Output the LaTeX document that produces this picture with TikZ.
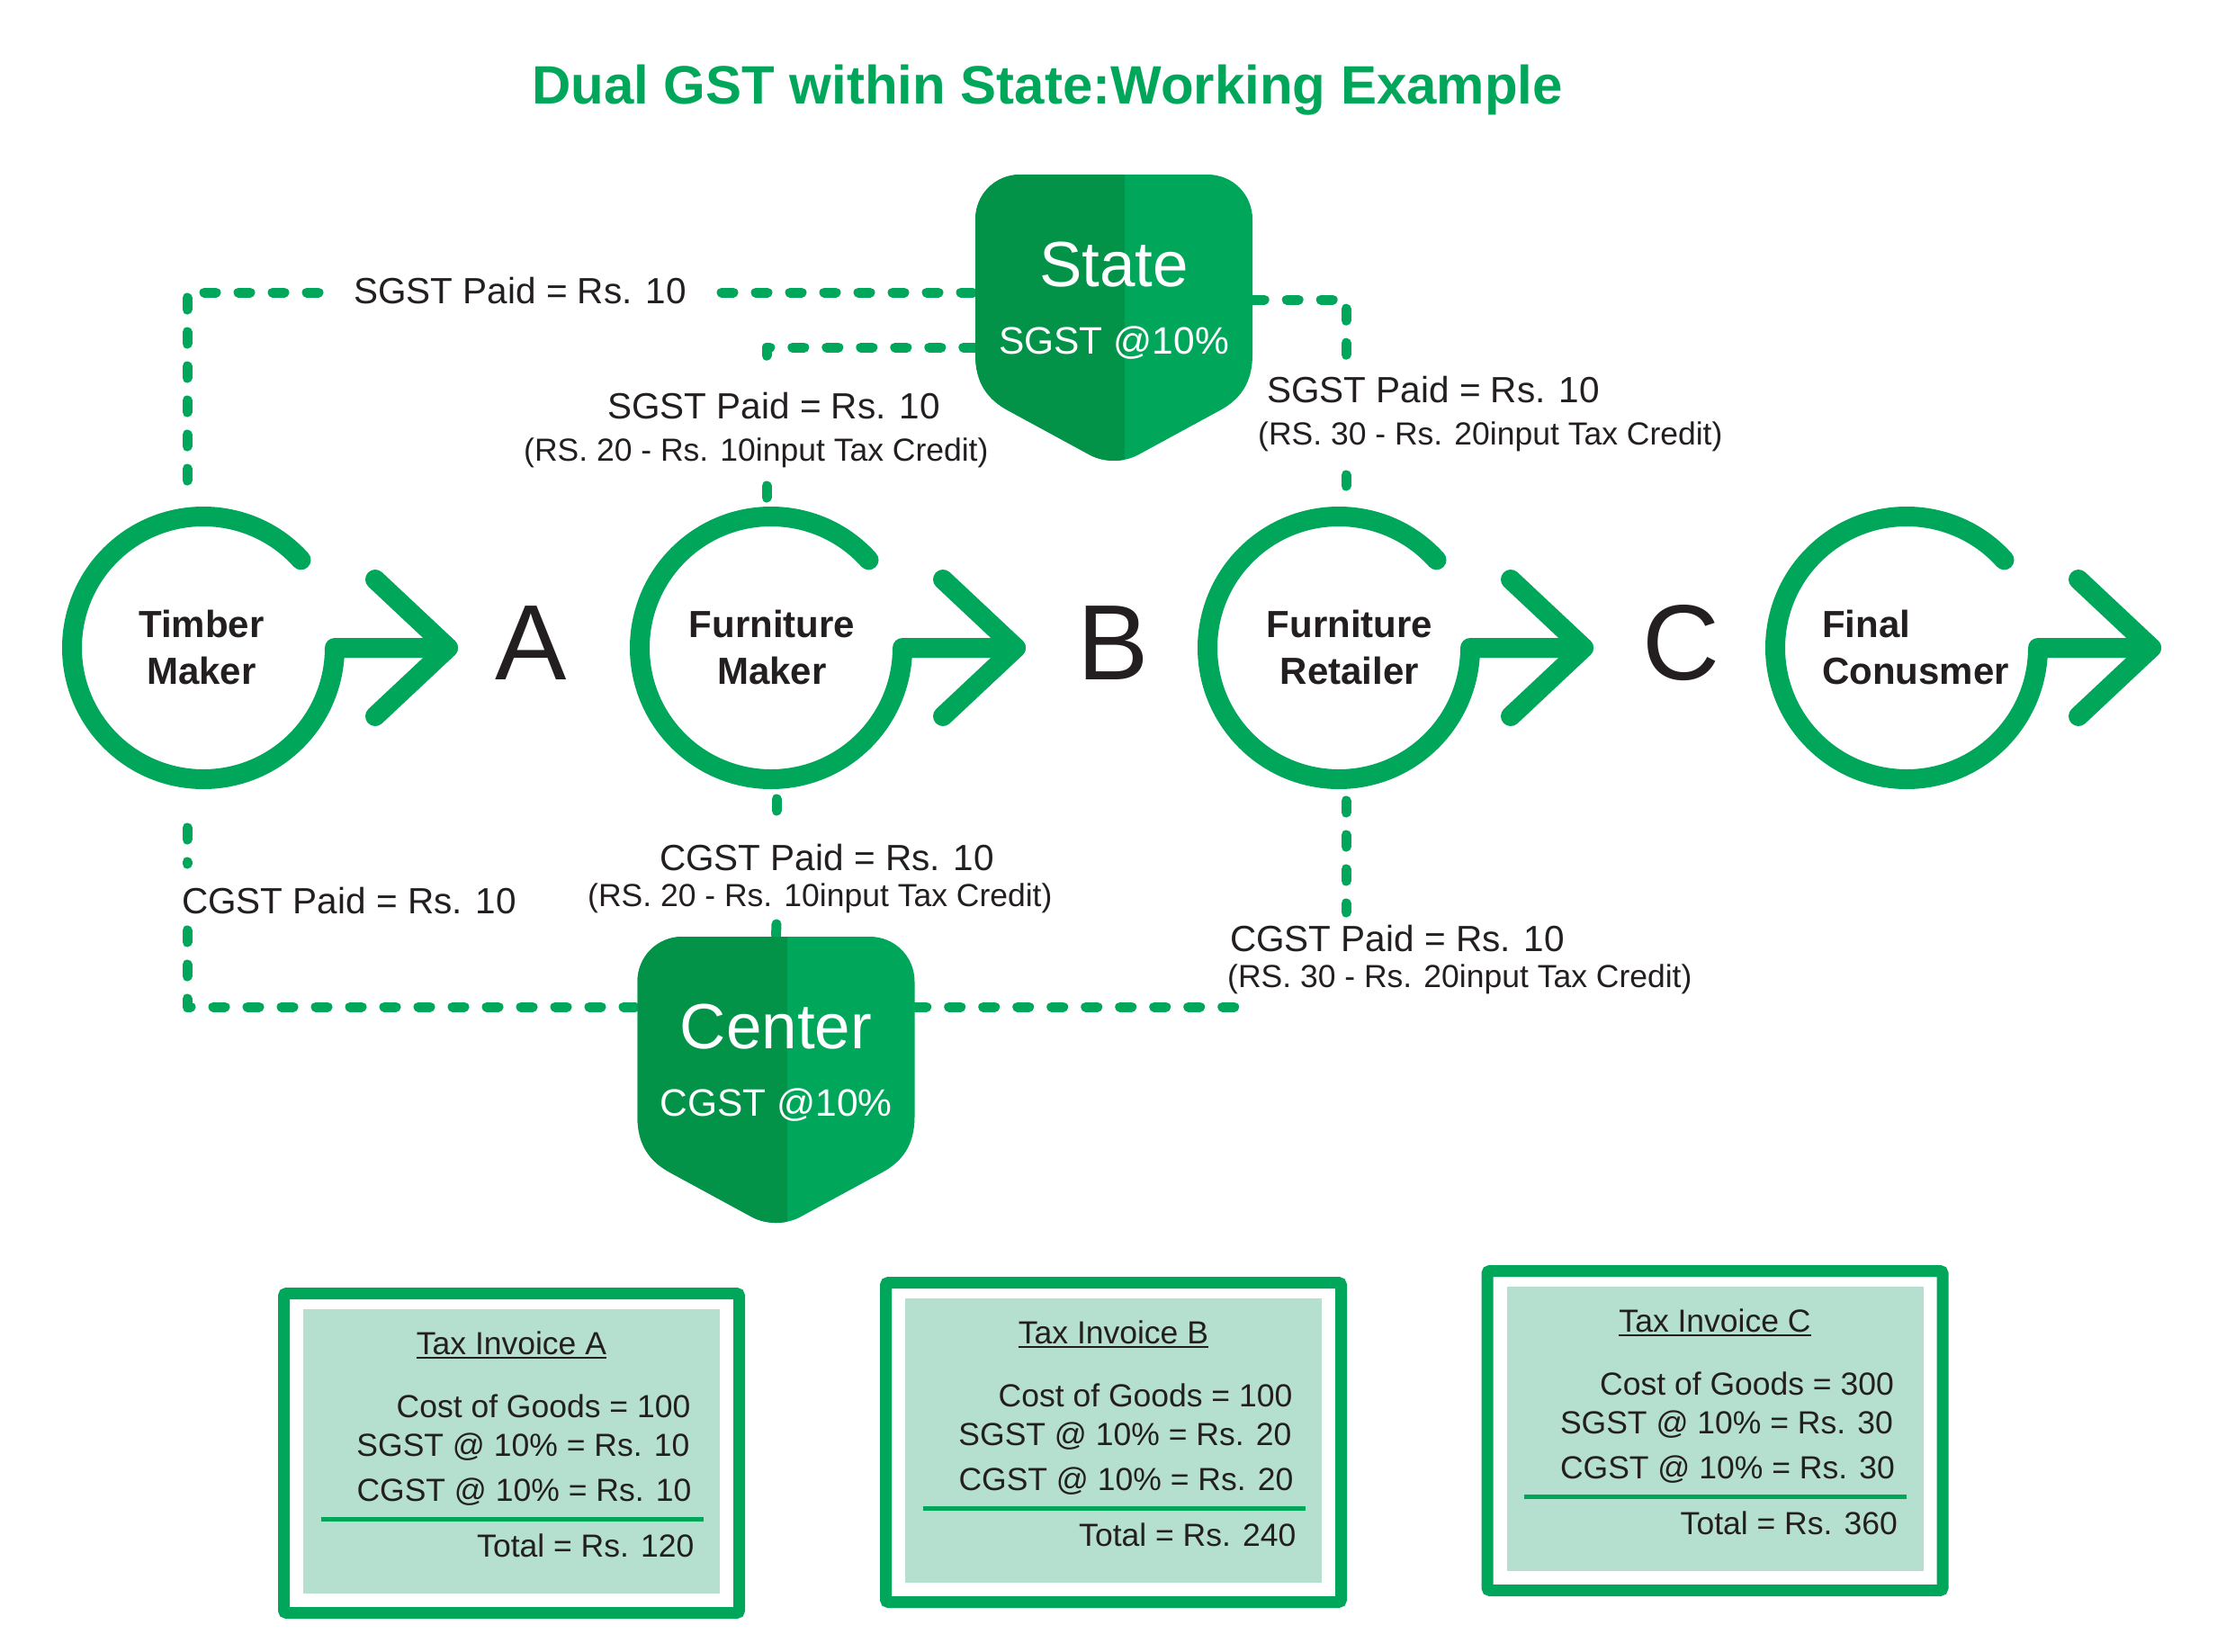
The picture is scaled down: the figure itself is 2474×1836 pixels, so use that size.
\documentclass[tikz,border=0pt]{standalone}
\usepackage{fontspec}
\setmainfont{Liberation Sans}
\usetikzlibrary{calc}
\definecolor{gr}{RGB}{0,166,90}
\definecolor{grd}{RGB}{3,147,72}
\definecolor{mint}{RGB}{181,223,207}
\definecolor{ink}{RGB}{35,31,32}
\def\shieldpath{(-154,50) .. controls (-154,22) and (-132,0) .. (-104,0) -- (104,0) .. controls (132,0) and (154,22) .. (154,50) -- (154,200) .. controls (154,232) and (140,250) .. (118,262) -- (26,312) .. controls (10,320) and (-10,320) .. (-26,312) -- (-118,262) .. controls (-140,250) and (-154,232) .. (-154,200) -- cycle}
\begin{document}
\begin{tikzpicture}[x=1pt,y=-1pt,
  ring/.style={draw=gr,line width=22pt,line cap=round,line join=round},
  dashline/.style={draw=gr,line width=11pt,line cap=round,line join=round,dash pattern=on 13pt off 25pt},
  lbl/.style={anchor=base west,inner sep=0pt,text=ink,font=\fontsize{40.5}{48}\selectfont},
  sub/.style={anchor=base west,inner sep=0pt,text=ink,font=\fontsize{35.5}{42}\selectfont},
  inv/.style={anchor=base east,inner sep=0pt,text=ink,font=\fontsize{35.5}{42}\selectfont},
  who/.style={anchor=base,inner sep=0pt,text=ink,font=\bfseries\fontsize{42}{50}\selectfont},
  whol/.style={anchor=base west,inner sep=0pt,text=ink,font=\bfseries\fontsize{42}{50}\selectfont},
  letter/.style={anchor=base,inner sep=0pt,text=ink,font=\fontsize{119}{140}\selectfont},
  hub/.style={minimum width=308pt,minimum height=319pt,inner sep=0pt},
  ringnode/.style={circle,minimum size=270pt,inner sep=0pt},
  big/.style={anchor=base,inner sep=0pt,text=white,font=\fontsize{71}{80}\selectfont},
  rate/.style={anchor=base,inner sep=0pt,text=white,font=\fontsize{42.5}{50}\selectfont}]
\useasboundingbox[fill=white] (0,0) rectangle (2474,1836);

% title
\node[anchor=base,inner sep=0pt,text=gr,font=\bfseries\fontsize{60}{72}\selectfont] (title) at (1164,115) {Dual GST within State:Working Example};

% hubs (invisible frames used for connector ends)
\node[hub] (state) at (1238,353.5) {};
\node[hub] (center) at (862.5,1199.5) {};

% circle nodes
\node[ringnode] (tm) at (226,720) {};
\node[ringnode] (fm) at (857,720) {};
\node[ringnode] (fr) at (1488,720) {};
\node[ringnode] (fc) at (2119,720) {};

% labels
\node[lbl] (l1) at (393,337) {SGST Paid = Rs. 10};
\node[lbl] (l2) at (675,465) {SGST Paid = Rs. 10};
\node[sub] (l2s) at (582,512) {(RS. 20 - Rs. 10input Tax Credit)};
\node[lbl] (l3) at (1408,447) {SGST Paid = Rs. 10};
\node[sub] (l3s) at (1398,494) {(RS. 30 - Rs. 20input Tax Credit)};
\node[lbl] (l4) at (202,1015) {CGST Paid = Rs. 10};
\node[lbl] (l5) at (733,967) {CGST Paid = Rs. 10};
\node[sub] (l5s) at (653,1007) {(RS. 20 - Rs. 10input Tax Credit)};
\node[lbl] (l6) at (1367,1057) {CGST Paid = Rs. 10};
\node[sub] (l6s) at (1364,1097) {(RS. 30 - Rs. 20input Tax Credit)};

% connector coordinates
\coordinate (c1a) at (208,534);
\coordinate (c1k) at (208,325);
\coordinate (c1e) at (355,325);
\coordinate (c1b) at (802,325);
\coordinate (c2k) at (852,386);
\coordinate (c2e) at (852,415);
\coordinate (c2b) at (852,540);
\coordinate (c2f) at (852,553);
\coordinate (c3k) at (1496,333);
\coordinate (c3e) at (1496,402);
\coordinate (c3b) at (1496,528);
\coordinate (c3f) at (1496,540);
\coordinate (c4a) at (208,920);
\coordinate (c4e) at (208,960);
\coordinate (c4b) at (208,1034);
\coordinate (c4k) at (208,1119);
\coordinate (c5a) at (863,888);
\coordinate (c5e) at (863,918);
\coordinate (c5b) at (863,1027);
\coordinate (c6a) at (1496,890);
\coordinate (c6e) at (1496,1014);
\coordinate (c6k) at (1383,1119);

% dashed connectors
\draw[dashline] (c1a) -- (c1k) -- (c1e);
\draw[dashline] (c1b) -- (state.west |- c1b);
\draw[dashline] (state.west |- c2k) -- (c2k) -- (c2e);
\draw[dashline] (c2b) -- (c2f);
\draw[dashline] (state.east |- c3k) -- (c3k) -- (c3e);
\draw[dashline] (c3b) -- (c3f);
\draw[dashline] (c4a) -- (c4e);
\draw[dashline] (c4b) -- (c4k) -- (center.west |- c4k);
\draw[dashline] (c5a) -- (c5e);
\draw[dashline] (c5b) -- (center.north);
\draw[dashline] (c6a) -- (c6e);
\draw[dashline] (center.east |- c6k) -- (c6k);

% shields
\begin{scope}[shift={(1238,194)}]
  \fill[gr] \shieldpath;
  \begin{scope}
    \clip \shieldpath;
    \fill[grd] (-170,-10) rectangle (12,330);
  \end{scope}
\end{scope}
\begin{scope}[shift={(862.5,1041)}]
  \fill[gr] \shieldpath;
  \begin{scope}
    \clip \shieldpath;
    \fill[grd] (-170,-10) rectangle (12,330);
  \end{scope}
\end{scope}
\node[big] (stateT) at (1238,318) {State};
\node[rate] (stateR) at (1238,393) {SGST @10\%};
\node[big] (centerT) at (862.5,1165) {Center};
\node[rate] (centerR) at (862.5,1240) {CGST @10\%};

% rings with arrows
\foreach \n in {tm,fm,fr,fc}{
  \draw[ring] ($(\n.center)+(42:146pt)$) arc[start angle=42,end angle=360,radius=146pt] -- ($(\n.center)+(272pt,0pt)$);
  \draw[ring] ($(\n.center)+(191pt,76pt)$) -- ($(\n.center)+(272pt,0pt)$) -- ($(\n.center)+(191pt,-76pt)$);
}

% circle texts
\node[who] (tm1) at (224,708) {Timber};
\node[who] (tm2) at (224,760) {Maker};
\node[who] (fm1) at (858,708) {Furniture};
\node[who] (fm2) at (858,760) {Maker};
\node[who] (fr1) at (1500,708) {Furniture};
\node[who] (fr2) at (1500,760) {Retailer};
\node[whol] (fc1) at (2025,708) {Final};
\node[whol] (fc2) at (2025,760) {Conusmer};

% letters
\node[letter] (la) at (590,755) {A};
\node[letter] (lb) at (1237,755) {B};
\node[letter] (lc) at (1868,755) {C};

% invoices
\foreach \cx/\top/\nm/\cost/\tax/\tot in {568.5/1431/A/100/10/120, 1237.5/1419/B/100/20/240, 1906/1406/C/300/30/360}{
  \begin{scope}[shift={(\cx,\top)}]
    \draw[gr,line width=13pt,rounded corners=3pt] (-253,6.5) rectangle (253,361.5);
    \fill[mint] (-231.5,24) rectangle (231.5,340);
    \node[anchor=base,inner sep=0pt,text=ink,font=\fontsize{35.5}{42}\selectfont] (ti\nm) at (0,74) {Tax Invoice \nm};
    \draw[ink,line width=1.8pt] ($(ti\nm.base west)+(0,4)$) -- ($(ti\nm.base east)+(0,4)$);
    \node[inv] (co\nm) at (199,144) {Cost of Goods = \cost};
    \node[inv] (sg\nm) at (198,187) {SGST @ 10\% = Rs. \tax};
    \node[inv] (cg\nm) at (200,237) {CGST @ 10\% = Rs. \tax};
    \draw[gr,line width=5pt] (-212,257) -- (213,257);
    \node[inv] (to\nm) at (203,299) {Total = Rs. \tot};
  \end{scope}
}
\end{tikzpicture}
\end{document}
